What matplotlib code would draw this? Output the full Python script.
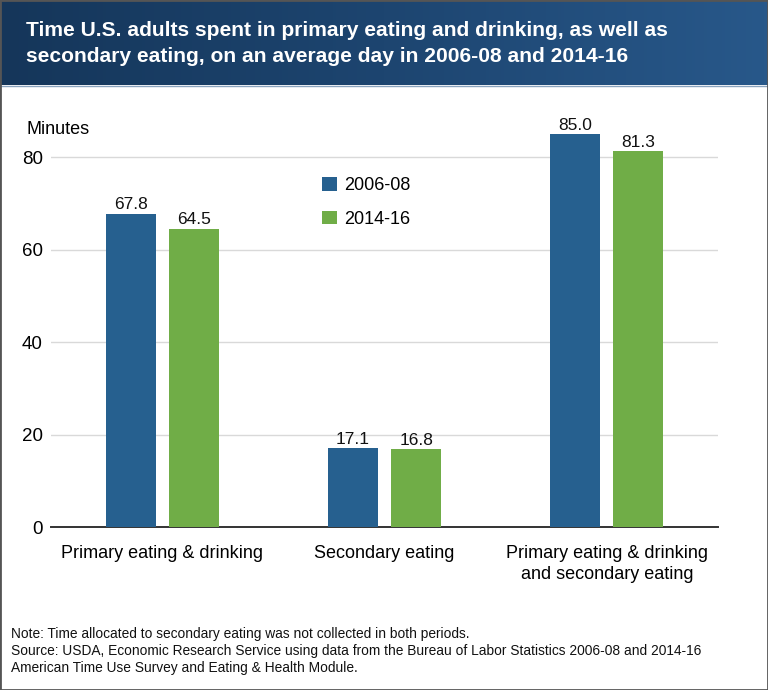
import matplotlib
matplotlib.use("Agg")
import matplotlib.pyplot as plt
import numpy as np
from matplotlib.patches import Rectangle
from matplotlib.colors import LinearSegmentedColormap

categories = ["Primary eating & drinking", "Secondary eating",
              "Primary eating & drinking\nand secondary eating"]
series_names = ["2006-08", "2014-16"]
values_2006 = [67.8, 17.1, 85.0]
values_2014 = [64.5, 16.8, 81.3]
yticks = [0, 20, 40, 60, 80]

title_lines = ["Time U.S. adults spent in primary eating and drinking, as well as",
               "secondary eating, on an average day in 2006-08 and 2014-16"]
footer_lines = ["Note: Time allocated to secondary eating was not collected in both periods.",
                "Source: USDA, Economic Research Service using data from the Bureau of Labor Statistics 2006-08 and 2014-16",
                "American Time Use Survey and Eating & Health Module."]

blue = "#26608f"
green = "#70ad47"

plt.rcParams["font.family"] = ["Liberation Sans", "DejaVu Sans"]

fig = plt.figure(figsize=(7.68, 6.9), dpi=100)

# header gradient
hax = fig.add_axes([0, 1 - 85 / 690, 1, 85 / 690])
grad = np.linspace(0, 1, 256).reshape(1, -1)
cmap = LinearSegmentedColormap.from_list("hdr", ["#15365a", "#1d4570", "#28588a"])
hax.imshow(grad, aspect="auto", cmap=cmap, extent=[0, 1, 0, 1])
hax.set_axis_off()
fig.add_artist(plt.Line2D([0, 1], [1 - 85.5 / 690] * 2, transform=fig.transFigure,
                          color="#8aa3bd", linewidth=1))

fig.text(26 / 768, 1 - 36 / 690, title_lines[0], color="white", fontweight="bold",
         va="baseline", ha="left", fontsize=15.15)
fig.text(26 / 768, 1 - 62 / 690, title_lines[1], color="white", fontweight="bold",
         va="baseline", ha="left", fontsize=15.15)

ax = fig.add_axes([51 / 768, (690 - 527) / 690, (718 - 51) / 768, (527 - 111) / 690])
x = np.arange(len(categories))
w = 0.225
off = 0.142
b1 = ax.bar(x - off, values_2006, w, color=blue, label=series_names[0], zorder=3)
b2 = ax.bar(x + off, values_2014, w, color=green, label=series_names[1], zorder=3)
for bars, vals in ((b1, values_2006), (b2, values_2014)):
    for r, v in zip(bars, vals):
        ax.text(r.get_x() + r.get_width() / 2, v + 0.3, f"{v:.1f}", ha="center",
                va="bottom", fontsize=12.5, color="#111111")

ax.set_xlim(-0.5, 2.5)
ax.set_ylim(0, 90)
ax.set_yticks(yticks)
ax.set_yticklabels([str(t) for t in yticks])
ax.set_xticks(x)
ax.set_xticklabels(categories, fontsize=13, linespacing=1.3)
ax.tick_params(axis="y", length=0, labelsize=13.5, pad=6)
ax.tick_params(axis="x", length=0, pad=13)
for s in ["top", "right", "left"]:
    ax.spines[s].set_visible(False)
ax.spines["bottom"].set_color("#333333")
ax.spines["bottom"].set_linewidth(1.4)
ax.yaxis.grid(True, color="#d9d9d9", linewidth=1, zorder=0)
ax.set_axisbelow(True)

fig.text(26 / 768, 1 - 129 / 690, "Minutes", fontsize=13, va="center", ha="left")

leg = ax.legend(loc="upper left", bbox_to_anchor=((315 - 51) / (718 - 51), 1 - (170 - 111) / (527 - 111)),
                frameon=False, fontsize=13, handlelength=0.8, handleheight=0.8,
                handletextpad=0.4, labelspacing=0.9, borderaxespad=0)

for line, ybase in zip(footer_lines, [638, 655, 672]):
    fig.text(11 / 768, 1 - ybase / 690, line, fontsize=9.9, va="baseline", ha="left",
             color="#111111")

fig.patches.append(Rectangle((0, 0), 1, 1, transform=fig.transFigure, fill=False,
                             edgecolor="#555555", linewidth=2, zorder=10))

fig.savefig("out.png", dpi=100)
